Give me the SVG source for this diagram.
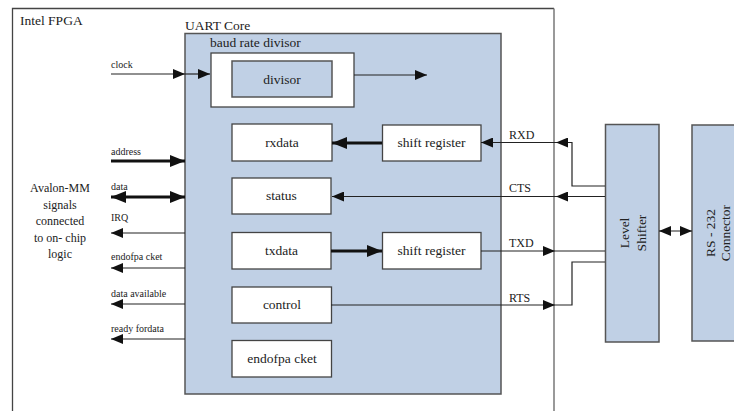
<svg xmlns="http://www.w3.org/2000/svg" width="734" height="411" viewBox="0 0 734 411" font-family="'Liberation Serif', 'Times New Roman', serif">
<defs>
<style>
text{font-family:"Liberation Serif","Times New Roman",serif;fill:#222}
.blue{fill:#c0d0e5;stroke:#555;stroke-width:1.5}
.white{fill:#fff;stroke:#444;stroke-width:1.3}
.t13{font-size:13.5px}
.t10{font-size:10px}
.t12{font-size:12px}
.ln{stroke:#222;stroke-width:1.2;fill:none}
.lnb{stroke:#111;stroke-width:3;fill:none}
.mid{text-anchor:middle}
</style>
<marker id="ah" viewBox="0 0 12 10" refX="12" refY="5" markerWidth="12" markerHeight="10" markerUnits="userSpaceOnUse" orient="auto-start-reverse"><path d="M0,0 L12,5 L0,10 z" fill="#111"/></marker>
<marker id="ahb" viewBox="0 0 15 12" refX="15" refY="6" markerWidth="15" markerHeight="12" markerUnits="userSpaceOnUse" orient="auto-start-reverse"><path d="M0,0 L15,6 L0,12 z" fill="#111"/></marker>
</defs>
<rect width="734" height="411" fill="#fff"/>

<g id="fpga">
<path d="M12.5,411 V8.5 H554" fill="none" stroke="#444" stroke-width="1.3"/>
<path d="M554,8.5 V411" fill="none" stroke="#777" stroke-width="1.5"/>
<text x="20" y="25" class="t13">Intel FPGA</text>
</g>

<g id="avalon" class="t12">
<text x="60" y="192" class="mid">Avalon-MM</text>
<text x="60" y="209" class="mid">signals</text>
<text x="60" y="225" class="mid">connected</text>
<text x="60" y="242" class="mid">to on- chip</text>
<text x="60" y="258" class="mid">logic</text>
</g>

<g id="uart">
<rect x="185" y="33.5" width="316" height="360.5" class="blue"/>
<text x="185" y="30" class="t13">UART Core</text>
</g>

<g id="baud">
<rect x="211" y="53" width="143" height="54" class="white"/>
<text x="210" y="47" class="t13">baud  rate divisor</text>
</g>
<g id="divisor">
<rect x="232" y="61" width="100" height="36" class="blue"/>
<text x="282" y="84" class="t13 mid">divisor</text>
</g>
<g id="rxdata">
<rect x="232" y="124" width="100" height="37" class="white"/>
<text x="282" y="147" class="t13 mid">rxdata</text>
</g>
<g id="shiftreg_rx">
<rect x="382.5" y="125" width="98.5" height="36" class="white"/>
<text x="431.5" y="147" class="t13 mid">shift register</text>
</g>
<g id="status">
<rect x="232" y="178" width="99" height="36" class="white"/>
<text x="281.5" y="200" class="t13 mid">status</text>
</g>
<g id="txdata">
<rect x="232" y="232.5" width="99" height="36.5" class="white"/>
<text x="281.5" y="255" class="t13 mid">txdata</text>
</g>
<g id="shiftreg_tx">
<rect x="382.5" y="232.5" width="98.5" height="36.5" class="white"/>
<text x="431.5" y="255" class="t13 mid">shift register</text>
</g>
<g id="control">
<rect x="232" y="287" width="99.5" height="36" class="white"/>
<text x="282" y="309" class="t13 mid">control</text>
</g>
<g id="endofpacket">
<rect x="232" y="340.5" width="99.5" height="36.5" class="white"/>
<text x="282" y="363" class="t13 mid">endofpa cket</text>
</g>

<g id="levelshifter">
<rect x="605.5" y="124.5" width="53.5" height="217.5" class="blue"/>
<g transform="translate(632,233) rotate(-90)" class="t13">
<text x="0" y="-3" class="mid">Level</text>
<text x="0" y="13.5" class="mid">Shifter</text>
</g>
</g>
<g id="rs232">
<rect x="692" y="125" width="50" height="216" class="blue"/>
<g transform="translate(709,233) rotate(-90)" class="t13">
<text x="0" y="5.5" class="mid">RS - 232</text>
<text x="0" y="21" class="mid">Connector</text>
</g>
</g>

<g id="connectors">
<path d="M111,74 H185" class="ln" marker-end="url(#ah)"/>
<path d="M185,74 H210" class="ln" marker-end="url(#ah)"/>
<path d="M354,75 H427" class="ln" marker-end="url(#ah)"/>
<path d="M111,161 H185" class="lnb" marker-end="url(#ahb)"/>
<path d="M111,197 H185" class="lnb" marker-start="url(#ahb)" marker-end="url(#ahb)"/>
<path d="M185,233 H111" class="ln" marker-end="url(#ah)"/>
<path d="M185,268 H111" class="ln" marker-end="url(#ah)"/>
<path d="M185,304 H111" class="ln" marker-end="url(#ah)"/>
<path d="M185,339 H111" class="ln" marker-end="url(#ah)"/>
<path d="M382,143 H332" class="lnb" marker-end="url(#ahb)"/>
<path d="M331,251 H382" class="lnb" marker-end="url(#ahb)"/>
<path d="M605,186 H572 V142.5 H556" class="ln" marker-end="url(#ah)"/>
<path d="M556,142.5 H481" class="ln" marker-end="url(#ah)"/>
<path d="M605,196.5 H556" class="ln" marker-end="url(#ah)"/>
<path d="M556,196.5 H332" class="ln" marker-end="url(#ah)"/>
<path d="M481,251 H555" class="ln" marker-end="url(#ah)"/>
<path d="M555,251 H605" class="ln"/>
<path d="M331,305 H555" class="ln" marker-end="url(#ah)"/>
<path d="M555,305 H572 V262 H605" class="ln"/>
<path d="M659,231 H692" class="ln" stroke-width="2.5" marker-start="url(#ah)" marker-end="url(#ah)"/>
</g>

<g id="labels">
<text x="111" y="68" class="t10">clock</text>
<text x="111" y="155" class="t10">address</text>
<text x="111" y="190" class="t10">data</text>
<text x="111" y="221" class="t10">IRQ</text>
<text x="111" y="260" class="t10">endofpa cket</text>
<text x="111" y="297" class="t10">data available</text>
<text x="111" y="332" class="t10">ready fordata</text>
<text x="509" y="139" class="t12">RXD</text>
<text x="509" y="192" class="t12">CTS</text>
<text x="509" y="247" class="t12">TXD</text>
<text x="509" y="302" class="t12">RTS</text>
</g>
</svg>
